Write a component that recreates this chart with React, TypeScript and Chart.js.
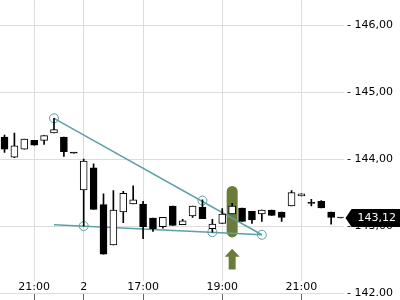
import React, { useEffect, useRef } from "react";
import { Chart, registerables } from "chart.js";

Chart.register(...registerables);

// ---- data ----
const times = [
  "20:15", "20:30", "20:45", "21:00", "21:15", "21:30", "21:45", "22:00",
  "15:30", "15:45", "16:00", "16:15", "16:30", "16:45", "17:00", "17:15",
  "17:30", "17:45", "18:00", "18:15", "18:30", "18:45", "19:00", "19:15",
  "19:30", "19:45", "20:00", "20:15", "20:30", "20:45", "21:00", "21:15",
  "21:30", "21:45", "22:00",
];
const opens = [
  144.33, 144.03, 144.15, 144.28, 144.28, 144.39, 144.33, 144.09,
  143.54, 143.87, 143.32, 142.72, 143.21, 143.33, 143.33, 143.12,
  142.99, 143.30, 143.02, 143.15, 143.28, 142.96, 143.04, 143.18,
  143.27, 143.22, 143.18, 143.24, 143.21, 143.30, 143.45, 143.34,
  143.37, 143.21, 143.12,
];
const highs = [
  144.36, 144.39, 144.30, 144.28, 144.35, 144.61, 144.33, 144.09,
  144.00, 143.93, 143.48, 143.53, 143.52, 143.60, 143.37, 143.12,
  143.13, 143.30, 143.10, 143.30, 143.39, 143.10, 143.26, 143.34,
  143.27, 143.22, 143.24, 143.24, 143.21, 143.53, 143.48, 143.40,
  143.38, 143.21, 143.12,
];
const lows = [
  144.10, 144.02, 144.15, 144.21, 144.22, 144.39, 144.04, 144.09,
  143.00, 143.25, 142.58, 142.72, 143.05, 143.33, 142.81, 142.92,
  142.97, 143.01, 143.02, 143.13, 143.11, 142.91, 143.04, 143.18,
  143.07, 143.04, 143.07, 143.16, 143.07, 143.30, 143.45, 143.30,
  143.27, 143.03, 143.12,
];
const closes = [
  144.15, 144.20, 144.30, 144.21, 144.35, 144.44, 144.11, 144.09,
  143.97, 143.25, 142.58, 143.24, 143.49, 143.39, 142.99, 142.96,
  143.13, 143.01, 143.08, 143.30, 143.11, 143.03, 143.18, 143.30,
  143.07, 143.09, 143.24, 143.16, 143.13, 143.50, 143.48, 143.34,
  143.27, 143.13, 143.12,
];

const xTickIndex = [3, 8, 14, 22, 30];
const xTickText = ["21:00", "2", "17:00", "19:00", "21:00"];

const yTickValues = [142, 143, 144, 145, 146];
const yTickText = ["142.00", "143,00", "144,00", "145,00", "146,00"];

const upperTrend = [
  { x: 5, y: 144.61 },
  { x: 26, y: 142.87 },
];
const lowerTrend = [
  { x: 5, y: 143.02 },
  { x: 26, y: 142.87 },
];
const trendMarkers = [
  { x: 5, y: 144.61 },
  { x: 8, y: 143.0 },
  { x: 20, y: 143.38 },
  { x: 21, y: 142.91 },
  { x: 26, y: 142.87 },
];

const lastPrice = 143.12;
const lastPriceText = "143,12";

const signalIndex = 23;
const signalTop = 143.6;
const signalBottom = 142.83;
const arrowTop = 142.66;
const arrowBottom = 142.35;

// ---- styles ----
const FONT = "DejaVu Sans";
const TEAL = "#5e9fa8";
const GREEN = "#6b7c3a";
const GRID = "#dcdcdc";
const NONE = "rgba(0,0,0,0)";

const ticksPlugin = {
  id: "fixedTicks",
  afterBuildTicks(chart: any, args: any) {
    const scale = args.scale;
    if (!scale) return;
    if (scale.id === "x") scale.ticks = xTickIndex.map((v) => ({ value: v }));
    if (scale.id === "y") scale.ticks = yTickValues.map((v) => ({ value: v }));
  },
};

const overlayPlugin = {
  id: "overlay",
  beforeDatasetsDraw(chart: any) {
    const { ctx } = chart;
    const xs = chart.scales.x;
    const ys = chart.scales.y;
    const cx = xs.getPixelForValue(signalIndex);
    const top = ys.getPixelForValue(signalTop);
    const bot = ys.getPixelForValue(signalBottom);
    const w = 11;
    const r = w / 2;
    ctx.save();
    ctx.fillStyle = GREEN;
    ctx.beginPath();
    ctx.moveTo(cx - r, top + r);
    ctx.arc(cx, top + r, r, Math.PI, 0);
    ctx.lineTo(cx + r, bot - r);
    ctx.arc(cx, bot - r, r, 0, Math.PI);
    ctx.closePath();
    ctx.fill();

    // arrow
    const at = ys.getPixelForValue(arrowTop);
    const ab = ys.getPixelForValue(arrowBottom);
    const headH = 8;
    const headW = 7.5;
    const shaftW = 3.5;
    ctx.beginPath();
    ctx.moveTo(cx, at);
    ctx.lineTo(cx + headW, at + headH);
    ctx.lineTo(cx + shaftW, at + headH);
    ctx.lineTo(cx + shaftW, ab);
    ctx.lineTo(cx - shaftW, ab);
    ctx.lineTo(cx - shaftW, at + headH);
    ctx.lineTo(cx - headW, at + headH);
    ctx.closePath();
    ctx.fill();
    ctx.restore();
  },
  afterDraw(chart: any) {
    const { ctx, chartArea } = chart;
    const xs = chart.scales.x;
    const ys = chart.scales.y;
    ctx.save();
    ctx.font = `11px "${FONT}"`;
    ctx.textBaseline = "middle";
    ctx.textAlign = "center";
    const ly = chartArea.bottom - 6;
    xTickIndex.forEach((idx, k) => {
      const x = xs.getPixelForValue(idx);
      const t = xTickText[k];
      const w = ctx.measureText(t).width;
      ctx.fillStyle = "#ffffff";
      ctx.fillRect(x - w / 2 - 2, ly - 6, w + 4, 12);
      ctx.fillStyle = "#000000";
      ctx.fillText(t, x, ly);
    });

    // last price tag
    const py = ys.getPixelForValue(lastPrice);
    const x0 = chartArea.right + 2;
    ctx.fillStyle = "#000000";
    ctx.beginPath();
    ctx.moveTo(x0, py);
    ctx.lineTo(x0 + 6, py - 9);
    ctx.lineTo(chart.width, py - 9);
    ctx.lineTo(chart.width, py + 9);
    ctx.lineTo(x0 + 6, py + 9);
    ctx.closePath();
    ctx.fill();
    ctx.fillStyle = "#ffffff";
    ctx.textAlign = "left";
    ctx.fillText(lastPriceText, x0 + 12, py);
    ctx.restore();
  },
};

export default function App() {
  const ref = useRef<HTMLCanvasElement>(null);

  useEffect(() => {
    document.body.style.margin = "0";
    const canvas = ref.current!;
    const bodies = times.map((_, i) => ({ x: i, y: [opens[i], closes[i]] }));
    const wicks = times.map((_, i) => ({ x: i, y: [lows[i], highs[i]] }));
    const bodyColors = times.map((_, i) => (closes[i] > opens[i] ? "#ffffff" : "#000000"));

    const xGrid = (c: any) => (c.tick && xTickIndex.includes(c.tick.value) ? GRID : NONE);
    const xTick = (c: any) => (c.tick && xTickIndex.includes(c.tick.value) ? "#666666" : NONE);
    const yGrid = (c: any) => (c.tick && yTickValues.includes(c.tick.value) ? GRID : NONE);

    const chart = new Chart(canvas, {
      type: "bar",
      data: {
        datasets: [
          {
            type: "bar",
            label: "body",
            data: bodies as any,
            backgroundColor: bodyColors,
            borderColor: "#000000",
            borderWidth: 1,
            borderSkipped: false,
            barThickness: 7,
            minBarLength: 1,
            grouped: false,
            order: 0,
          } as any,
          {
            type: "bar",
            label: "wick",
            data: wicks as any,
            backgroundColor: "#000000",
            borderWidth: 0,
            barThickness: 1,
            grouped: false,
            order: 1,
          } as any,
          {
            type: "line",
            label: "markers",
            data: trendMarkers,
            showLine: false,
            pointRadius: 4.5,
            pointBorderWidth: 1,
            pointBorderColor: TEAL,
            pointBackgroundColor: NONE,
            order: 2,
          } as any,
          {
            type: "line",
            label: "upper",
            data: upperTrend,
            borderColor: TEAL,
            borderWidth: 1.5,
            pointRadius: 0,
            tension: 0,
            order: 3,
          } as any,
          {
            type: "line",
            label: "lower",
            data: lowerTrend,
            borderColor: TEAL,
            borderWidth: 1.5,
            pointRadius: 0,
            tension: 0,
            order: 3,
          } as any,
        ],
      },
      options: {
        animation: false,
        responsive: false,
        events: [],
        layout: { padding: { left: 0, top: 0, bottom: 0, right: 7 }, autoPadding: false },
        plugins: {
          legend: { display: false },
          tooltip: { enabled: false },
        },
        scales: {
          x: {
            type: "linear",
            min: -0.455,
            max: 34.253,
            offset: false,
            border: { display: false },
            grid: {
              color: xGrid,
              offset: false,
              drawTicks: true,
              tickLength: 7,
              tickColor: xTick,
            },
            ticks: { display: false, stepSize: 1, maxTicksLimit: 200 },
          },
          y: {
            type: "linear",
            position: "right",
            min: 142,
            max: 146.373,
            border: { display: false },
            grid: { color: yGrid, drawTicks: false, offset: false },
            ticks: {
              padding: 0,
              stepSize: 1,
              color: "#000000",
              font: { family: FONT, size: 11, lineHeight: 0.05 },
              callback: (v: any) => {
                const k = yTickValues.indexOf(Number(v));
                return k >= 0 ? " - " + yTickText[k] : "";
              },
            },
          },
        },
      } as any,
      plugins: [ticksPlugin, overlayPlugin],
    });
    return () => chart.destroy();
  }, []);

  return (
    <div style={{ position: "fixed", left: 0, top: 0, width: 400, height: 300 }}>
      <canvas ref={ref} width={400} height={300} style={{ display: "block" }} />
    </div>
  );
}
